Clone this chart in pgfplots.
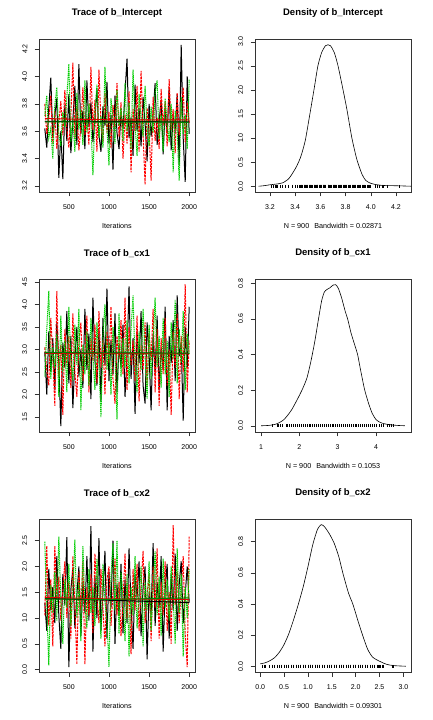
\documentclass[border=0pt]{standalone}
\usepackage{fontspec}
\setmainfont{Liberation Sans}
\usepackage{pgfplots}
\usepackage{pgfplotstable}
\pgfplotsset{compat=1.18}
\definecolor{rred}{HTML}{FF0000}
\definecolor{rgreen}{HTML}{00CD00}

% chains: a = chain 1 (black), b = chain 2 (red), c = chain 3 (green)
\pgfplotstableread{
it a b c
200 3.62 3.80 3.71
225 3.48 3.58 3.86
250 3.77 3.69 3.55
275 3.99 3.86 3.62
300 3.55 3.51 3.40
325 3.71 3.75 3.79
350 3.84 3.47 3.92
375 3.26 3.66 3.58
400 3.60 3.82 3.49
425 3.25 3.57 3.74
450 3.79 3.90 3.63
475 3.53 3.62 3.85
500 3.87 3.48 4.09
525 3.44 3.71 3.52
550 3.68 4.10 3.70
575 3.93 3.55 3.45
600 3.50 3.78 3.88
625 4.09 3.46 3.61
650 3.58 3.64 3.76
675 3.75 3.92 3.50
700 3.47 3.57 3.97
725 3.97 3.70 3.59
750 3.63 3.50 3.80
775 3.81 4.07 3.66
800 3.52 3.61 3.28
825 3.69 3.83 3.73
850 3.91 3.45 3.94
875 3.57 4.05 3.55
900 3.45 3.66 3.71
925 3.78 3.52 3.48
950 3.64 3.88 4.07
975 3.96 3.59 3.62
1000 3.51 3.74 3.35
1025 3.72 3.48 3.84
1050 3.32 3.79 3.68
1075 3.86 3.63 3.51
1100 3.59 3.95 3.90
1125 3.47 3.56 3.64
1150 3.74 3.81 3.77
1175 3.62 3.40 3.53
1200 3.88 3.72 3.95
1225 4.13 3.51 3.60
1250 3.55 3.89 3.81
1275 3.70 3.30 3.47
1300 3.42 3.76 4.05
1325 3.94 3.60 3.66
1350 3.60 3.93 3.42
1375 3.77 3.45 3.87
1400 3.49 4.04 3.70
1425 3.85 3.58 3.56
1450 3.66 3.21 3.93
1475 3.38 3.77 3.63
1500 3.80 3.62 3.49
1525 3.56 3.24 3.78
1550 3.73 3.85 3.59
1575 3.95 3.53 3.88
1600 3.50 3.70 3.97
1625 3.67 3.47 3.54
1650 3.83 3.91 3.72
1675 3.43 3.64 3.45
1700 3.76 3.82 3.84
1725 3.58 3.49 3.66
1750 3.92 3.98 3.52
1775 3.46 3.61 3.80
1800 3.71 3.76 3.30
1825 3.61 3.44 3.75
1850 3.87 3.88 3.60
1875 3.35 3.57 3.24
1900 4.23 3.73 3.85
1925 3.55 3.92 3.58
1950 3.23 3.52 3.72
1975 4.00 3.81 3.47
2000 3.58 3.66 3.98
}\tint

\pgfplotstableread{
it a b c
200 2.95 3.05 2.40
225 2.00 2.55 3.45
250 3.40 2.20 4.30
275 2.50 3.70 2.35
300 3.25 2.85 3.05
325 2.10 1.75 2.60
350 3.60 4.30 3.35
375 2.70 2.40 1.95
400 1.30 3.10 3.75
425 3.15 1.55 2.50
450 2.60 3.45 3.20
475 3.85 2.65 2.05
500 2.25 3.30 3.95
525 3.30 2.15 2.75
550 1.70 3.80 2.30
575 2.80 2.50 3.55
600 3.50 1.95 2.65
625 2.40 3.15 3.90
650 3.00 3.60 1.65
675 2.15 2.30 3.10
700 3.90 2.90 2.45
725 2.55 3.75 3.40
750 3.35 2.05 2.20
775 1.90 3.25 3.70
800 4.15 2.75 2.85
825 2.75 3.55 2.10
850 2.20 2.25 3.60
875 3.45 3.85 2.70
900 1.85 2.60 1.50
925 3.70 3.20 3.30
950 2.65 2.00 4.00
975 4.35 3.40 2.55
1000 2.30 2.70 3.15
1025 3.20 3.95 2.00
1050 2.45 2.35 3.50
1075 3.80 1.80 2.90
1100 2.05 3.30 1.45
1125 3.10 2.80 3.80
1150 2.60 3.65 2.40
1175 3.55 2.45 3.25
1200 1.95 4.15 2.60
1225 2.85 2.10 3.65
1250 4.40 3.50 2.25
1275 2.35 2.65 3.45
1300 3.25 3.20 4.20
1325 1.57 2.30 2.70
1350 3.40 3.75 2.05
1375 2.70 1.85 3.40
1400 3.85 3.10 2.55
1425 2.20 2.55 3.90
1450 1.80 3.60 2.85
1475 3.60 2.20 1.90
1500 2.90 3.35 3.55
1525 1.65 2.75 2.35
1550 3.35 3.90 3.15
1575 2.45 2.05 4.15
1600 3.75 3.45 2.60
1625 2.10 1.75 3.30
1650 3.05 3.25 2.15
1675 2.55 2.45 3.70
1700 3.95 3.70 2.45
1725 1.65 2.20 3.20
1750 3.30 3.00 1.95
1775 2.70 1.55 3.60
1800 3.65 3.40 2.80
1825 2.30 2.60 4.10
1850 4.20 3.80 2.25
1875 2.85 1.90 3.45
1900 3.15 3.30 2.70
1925 1.42 2.50 3.85
1950 3.50 4.45 2.10
1975 2.60 2.05 3.35
2000 3.95 3.20 2.90
}\tcxa

\pgfplotstableread{
it a b c
200 1.30 1.05 2.48
225 0.75 2.40 1.20
250 1.95 0.85 0.08
275 1.15 1.75 1.65
300 1.60 0.45 1.10
325 0.90 2.40 1.90
350 2.20 1.35 0.95
375 1.05 1.80 2.58
400 0.40 0.95 1.35
425 1.85 1.55 0.50
450 1.25 2.10 1.75
475 2.57 1.00 1.20
500 0.05 1.70 2.05
525 1.55 0.60 0.85
550 1.95 2.20 1.50
575 0.80 1.25 2.52
600 1.45 0.10 1.00
625 2.00 1.90 1.70
650 0.65 1.15 0.55
675 1.70 2.10 2.40
700 1.10 0.10 1.25
725 2.20 1.60 0.80
750 0.95 1.05 1.95
775 2.78 1.85 1.10
800 0.35 0.70 1.60
825 1.80 2.25 0.85
850 1.00 1.40 2.15
875 2.55 0.90 1.45
900 0.75 1.95 0.60
925 1.50 1.20 2.05
950 2.30 0.45 1.30
975 0.60 1.75 0.95
1000 1.90 2.00 0.05
1025 1.20 0.85 1.80
1050 2.50 1.50 2.45
1075 0.50 2.15 1.15
1100 1.65 1.05 2.50
1125 1.05 1.70 0.70
1150 2.05 0.65 1.90
1175 0.70 1.30 1.40
1200 1.75 2.25 0.55
1225 0.90 1.00 1.85
1250 2.35 1.65 0.25
1275 1.25 0.30 1.60
1300 0.40 1.95 1.05
1325 1.85 1.15 2.20
1350 1.40 2.05 0.80
1375 2.10 0.75 1.50
1400 0.65 1.60 2.00
1425 1.60 2.30 0.45
1450 2.00 0.90 1.70
1475 0.20 1.45 1.15
1500 1.50 1.85 2.10
1525 1.05 0.55 0.75
1550 2.45 2.00 1.55
1575 0.85 1.20 2.30
1600 1.70 2.35 1.05
1625 1.20 0.60 1.80
1650 2.20 1.70 0.65
1675 0.35 1.05 2.15
1700 1.55 2.10 1.20
1725 2.05 0.75 1.75
1750 0.60 1.50 0.95
1775 1.85 0.50 2.00
1800 1.15 2.80 1.40
1825 2.25 1.25 0.50
1850 0.75 1.90 2.35
1875 1.65 0.90 1.10
1900 2.10 1.55 1.85
1925 0.90 2.20 0.25
1950 1.45 0.70 1.60
1975 2.00 0.05 1.00
2000 1.30 2.58 1.95
}\tcxb

\pgfplotstableread{
x y
3.11 0.0
3.15 0.01
3.20 0.03
3.25 0.045
3.30 0.07
3.35 0.16
3.40 0.36
3.43 0.52
3.45 0.66
3.48 0.95
3.51 1.40
3.55 2.02
3.58 2.50
3.61 2.78
3.64 2.92
3.66 2.94
3.68 2.92
3.71 2.78
3.74 2.50
3.78 2.00
3.81 1.60
3.85 1.00
3.89 0.55
3.93 0.25
3.96 0.12
4.00 0.06
4.05 0.03
4.10 0.015
4.20 0.01
4.25 0.006
4.32 0.0
}\dint

\pgfplotstableread{
x y
1.00 0.000
1.20 0.002
1.40 0.010
1.60 0.035
1.80 0.090
2.00 0.170
2.10 0.215
2.20 0.270
2.30 0.360
2.40 0.470
2.50 0.600
2.58 0.700
2.65 0.750
2.72 0.765
2.80 0.775
2.88 0.790
2.95 0.792
3.02 0.770
3.10 0.720
3.20 0.640
3.26 0.600
3.35 0.520
3.45 0.450
3.52 0.400
3.60 0.310
3.70 0.205
3.80 0.130
3.90 0.070
4.00 0.035
4.10 0.020
4.20 0.012
4.30 0.008
4.40 0.005
4.55 0.002
4.75 0.000
}\dcxa

\pgfplotstableread{
x y
0.00 0.015
0.10 0.022
0.20 0.035
0.30 0.055
0.40 0.090
0.50 0.140
0.60 0.210
0.70 0.300
0.80 0.400
0.90 0.510
1.00 0.640
1.10 0.780
1.20 0.880
1.28 0.910
1.35 0.895
1.45 0.850
1.55 0.790
1.65 0.700
1.73 0.600
1.85 0.470
1.94 0.400
2.05 0.290
2.15 0.195
2.25 0.110
2.35 0.060
2.45 0.040
2.55 0.025
2.65 0.012
2.80 0.004
3.05 0.000
}\dcxb

\pgfplotsset{
  rbase/.style={
    scale only axis, width=156pt, height=153pt,
    anchor=south west,
    axis line style={line width=0.6pt, black!80},
    tick align=outside, tick pos=left, major tick length=4.5pt,
    tick style={line width=0.5pt, black!80},
    ticklabel style={font=\fontsize{7}{8}\selectfont, inner sep=0pt},
    /pgf/number format/assume math mode=true,
    /pgf/number format/1000 sep={},
    yticklabel style={rotate=90, anchor=south},
    xticklabel style={anchor=north},
    xticklabel shift=8pt, yticklabel shift=7pt,
    title style={font=\bfseries\fontsize{9.5}{11}\selectfont, at={(axis description cs:0.5,1)}, anchor=center, yshift=19.5pt},
    xlabel style={font=\fontsize{7.2}{8}\selectfont, at={(axis description cs:0.5,0)}, anchor=center, yshift=-34pt},
  },
  trace/.style={rbase, xmin=128, xmax=2072, xtick={500,1000,1500,2000}, xlabel={Iterations}},
  onedec/.style={#1ticklabel style={/pgf/number format/.cd, fixed, fixed zerofill, precision=1}},
  ch1/.style={black, line width=1pt},
  ch2/.style={rred, line width=1pt, dash pattern=on 2.5pt off 1pt},
  ch3/.style={rgreen, line width=1pt, dash pattern=on 1.2pt off 0.7pt},
  sm1/.style={black, line width=1pt},
  sm2/.style={red!85!black, line width=1pt},
  sm3/.style={green!50!black, line width=1pt},
  dens/.style={black, line width=0.6pt, smooth, tension=0.4},
  rug/.style={only marks, mark=|, mark size=1.4pt, black, line width=0.8pt},
}

\begin{document}
\begin{tikzpicture}
\path[use as bounding box, fill=white] (0,0) rectangle (432pt,720pt);

% ---------- row 1 ----------
\begin{axis}[trace, at={(39pt,528pt)}, title={Trace of b\_Intercept},
  ymin=3.156, ymax=4.273, ytick={3.2,3.4,3.6,3.8,4.0,4.2}, onedec=y]
\addplot[ch1] table[x=it, y=a] {\tint};
\addplot[ch2] table[x=it, y=b] {\tint};
\addplot[ch3] table[x=it, y=c] {\tint};
\addplot[sm1] coordinates {(200,3.672) (2000,3.668)};
\addplot[sm2] coordinates {(200,3.692) (1000,3.683) (2000,3.682)};
\addplot[sm3] coordinates {(200,3.668) (2000,3.665)};
\end{axis}

\begin{axis}[rbase, at={(255pt,528pt)}, title={Density of b\_Intercept},
  xlabel={N = 900\hspace{0.7em}Bandwidth = 0.02871},
  xmin=3.081, xmax=4.319, ymin=-0.12, ymax=3.06,
  xtick={3.2,3.4,3.6,3.8,4.0,4.2}, onedec=x,
  ytick={0,0.5,1,1.5,2,2.5,3}, onedec=y]
\addplot[dens] table[x=x, y=y] {\dint};
\addplot[rug] table[x=a, y expr=0] {\tint};
\addplot[rug] table[x=b, y expr=0] {\tint};
\addplot[rug] table[x=c, y expr=0] {\tint};
\end{axis}

% ---------- row 2 ----------
\begin{axis}[trace, at={(39pt,288pt)}, title={Trace of b\_cx1},
  ymin=1.167, ymax=4.567, ytick={1.5,2,2.5,3,3.5,4,4.5}, onedec=y]
\addplot[ch1] table[x=it, y=a] {\tcxa};
\addplot[ch2] table[x=it, y=b] {\tcxa};
\addplot[ch3] table[x=it, y=c] {\tcxa};
\addplot[sm1] coordinates {(200,2.925) (2000,2.915)};
\addplot[sm2] coordinates {(200,2.915) (2000,2.905)};
\addplot[sm3] coordinates {(200,2.93) (2000,2.92)};
\end{axis}

\begin{axis}[rbase, at={(255pt,288pt)}, title={Density of b\_cx1},
  xlabel={N = 900\hspace{0.7em}Bandwidth = 0.1053},
  xmin=0.843, xmax=4.913, ymin=-0.035, ymax=0.824,
  xtick={1,2,3,4},
  ytick={0,0.2,0.4,0.6,0.8}, onedec=y]
\addplot[dens] table[x=x, y=y] {\dcxa};
\addplot[rug] table[x=a, y expr=0] {\tcxa};
\addplot[rug] table[x=b, y expr=0] {\tcxa};
\addplot[rug] table[x=c, y expr=0] {\tcxa};
\end{axis}

% ---------- row 3 ----------
\begin{axis}[trace, at={(39pt,48pt)}, title={Trace of b\_cx2},
  ymin=-0.047, ymax=2.92, ytick={0,0.5,1,1.5,2,2.5}, onedec=y]
\addplot[ch1] table[x=it, y=a] {\tcxb};
\addplot[ch2] table[x=it, y=b] {\tcxb};
\addplot[ch3] table[x=it, y=c] {\tcxb};
\addplot[sm1] coordinates {(200,1.38) (2000,1.30)};
\addplot[sm2] coordinates {(200,1.40) (1000,1.37) (2000,1.36)};
\addplot[sm3] coordinates {(200,1.37) (1000,1.36) (2000,1.39)};
\end{axis}

\begin{axis}[rbase, at={(255pt,48pt)}, title={Density of b\_cx2},
  xlabel={N = 900\hspace{0.7em}Bandwidth = 0.09301},
  xmin=-0.11, xmax=3.16, ymin=-0.037, ymax=0.946,
  xtick={0,0.5,1,1.5,2,2.5,3}, onedec=x,
  ytick={0,0.2,0.4,0.6,0.8}, onedec=y]
\addplot[dens] table[x=x, y=y] {\dcxb};
\addplot[rug] table[x=a, y expr=0] {\tcxb};
\addplot[rug] table[x=b, y expr=0] {\tcxb};
\addplot[rug] table[x=c, y expr=0] {\tcxb};
\end{axis}
\end{tikzpicture}
\end{document}
